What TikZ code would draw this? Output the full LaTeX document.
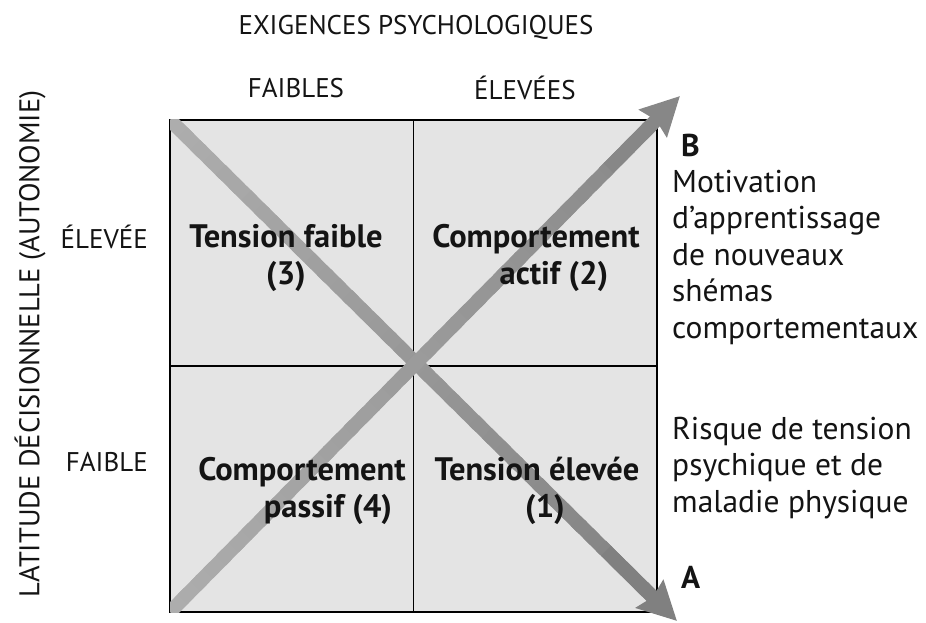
\documentclass[tikz,border=0pt]{standalone}
\usepackage{fontspec}
\setmainfont{PT Sans}
\usetikzlibrary{arrows.meta,calc}
\definecolor{quad}{HTML}{E4E4E4}
\definecolor{arrlight}{HTML}{ADADAD}
\definecolor{arrdark}{HTML}{808080}
\definecolor{ink}{HTML}{141414}
\begin{document}
\begin{tikzpicture}[x=1pt,y=-1pt,
  lbl/.style={inner sep=0pt, text=ink, font=\fontsize{27}{30}\selectfont},
  qtext/.style={inner sep=0pt, text=ink, align=center, font=\fontsize{32.5}{37}\selectfont\bfseries},
  rtext/.style={inner sep=0pt, text=ink, align=left, anchor=west, font=\fontsize{31.5}{36.5}\selectfont},
  grid/.style={line width=1.6pt, black},
  shaft/.style={line width=14pt, line cap=butt},
  head/.style={arrdark, line width=14pt, -{Stealth[length=38pt,width=38pt,inset=4pt]}}
]
\useasboundingbox (0,0) rectangle (926,623);
\fill[white] (0,0) rectangle (926,623);

% box corners and mid points
\coordinate (TL) at (170,120);
\coordinate (TR) at (657,120);
\coordinate (BL) at (170,612);
\coordinate (BR) at (657,612);
\coordinate (TM) at (413.5,120);
\coordinate (BM) at (413.5,612);
\coordinate (LM) at (170,366);
\coordinate (RM) at (657,366);
\coordinate (Atip) at (677,621);
\coordinate (Btip) at (680,96);

\fill[quad] (TL) rectangle (BR);
\draw[grid] (TL) rectangle (BR);
\draw[grid] (TM) -- (BM);
\draw[grid] (LM) -- (RM);

% gradient shafts
\begin{scope}
\clip (TL) rectangle (BR);
\foreach \i in {0,...,39} {
  \pgfmathtruncatemacro\pct{100*\i/39}
  \draw[shaft, color=arrdark!\pct!arrlight] ($(TL)!{\i/40}!(Atip)$) -- ($(TL)!{(\i+1.5)/40}!(Atip)$);
}
\foreach \i in {0,...,39} {
  \pgfmathtruncatemacro\pct{85*\i/39}
  \draw[shaft, color=arrdark!\pct!arrlight] ($(BL)!{\i/40}!(Btip)$) -- ($(BL)!{(\i+1.5)/40}!(Btip)$);
}
\end{scope}
\draw[head] ($(TL)!0.86!(Atip)$) -- (Atip);
\draw[head, color=arrdark!85!arrlight] ($(BL)!0.86!(Btip)$) -- (Btip);

% labels
\node[lbl] (title) at (416,27) {EXIGENCES PSYCHOLOGIQUES};
\node[lbl] (faibles) at (296,88) {FAIBLES};
\node[lbl] (elevees) at (525,88) {ÉLEVÉES};
\node[lbl, anchor=east] (elevee) at (148,237) {ÉLEVÉE};
\node[lbl, anchor=east] (faible) at (148,462) {FAIBLE};
\node[lbl, rotate=90, font=\fontsize{28.5}{30}\selectfont] (latitude) at (30,344) {LATITUDE DÉCISIONNELLE (AUTONOMIE)};

% quadrant texts
\node[qtext] (q3) at (286,258) {Tension faible\\(3)};
\node[qtext] (q2) at (536,258) {Comportement\\\hspace*{36pt}actif (2)};
\node[qtext] (q4) at (302,491) {Comportement\\\hspace*{52pt}passif (4)};
\node[qtext] (q1) at (537,491) {Tension élevée\\\hspace*{16pt}(1)};

% right texts
\node[rtext, font=\fontsize{31.5}{36.5}\selectfont\bfseries] (B) at (681,145) {B};
\node[rtext] (mot) at (672,257) {Motivation\\d’apprentissage\\de nouveaux\\shémas\\comportementaux};
\node[rtext] (risque) at (672,468) {Risque de tension\\psychique et de\\maladie physique};
\node[rtext, font=\fontsize{31.5}{36.5}\selectfont\bfseries] (A) at (681,577) {A};
\end{tikzpicture}
\end{document}
